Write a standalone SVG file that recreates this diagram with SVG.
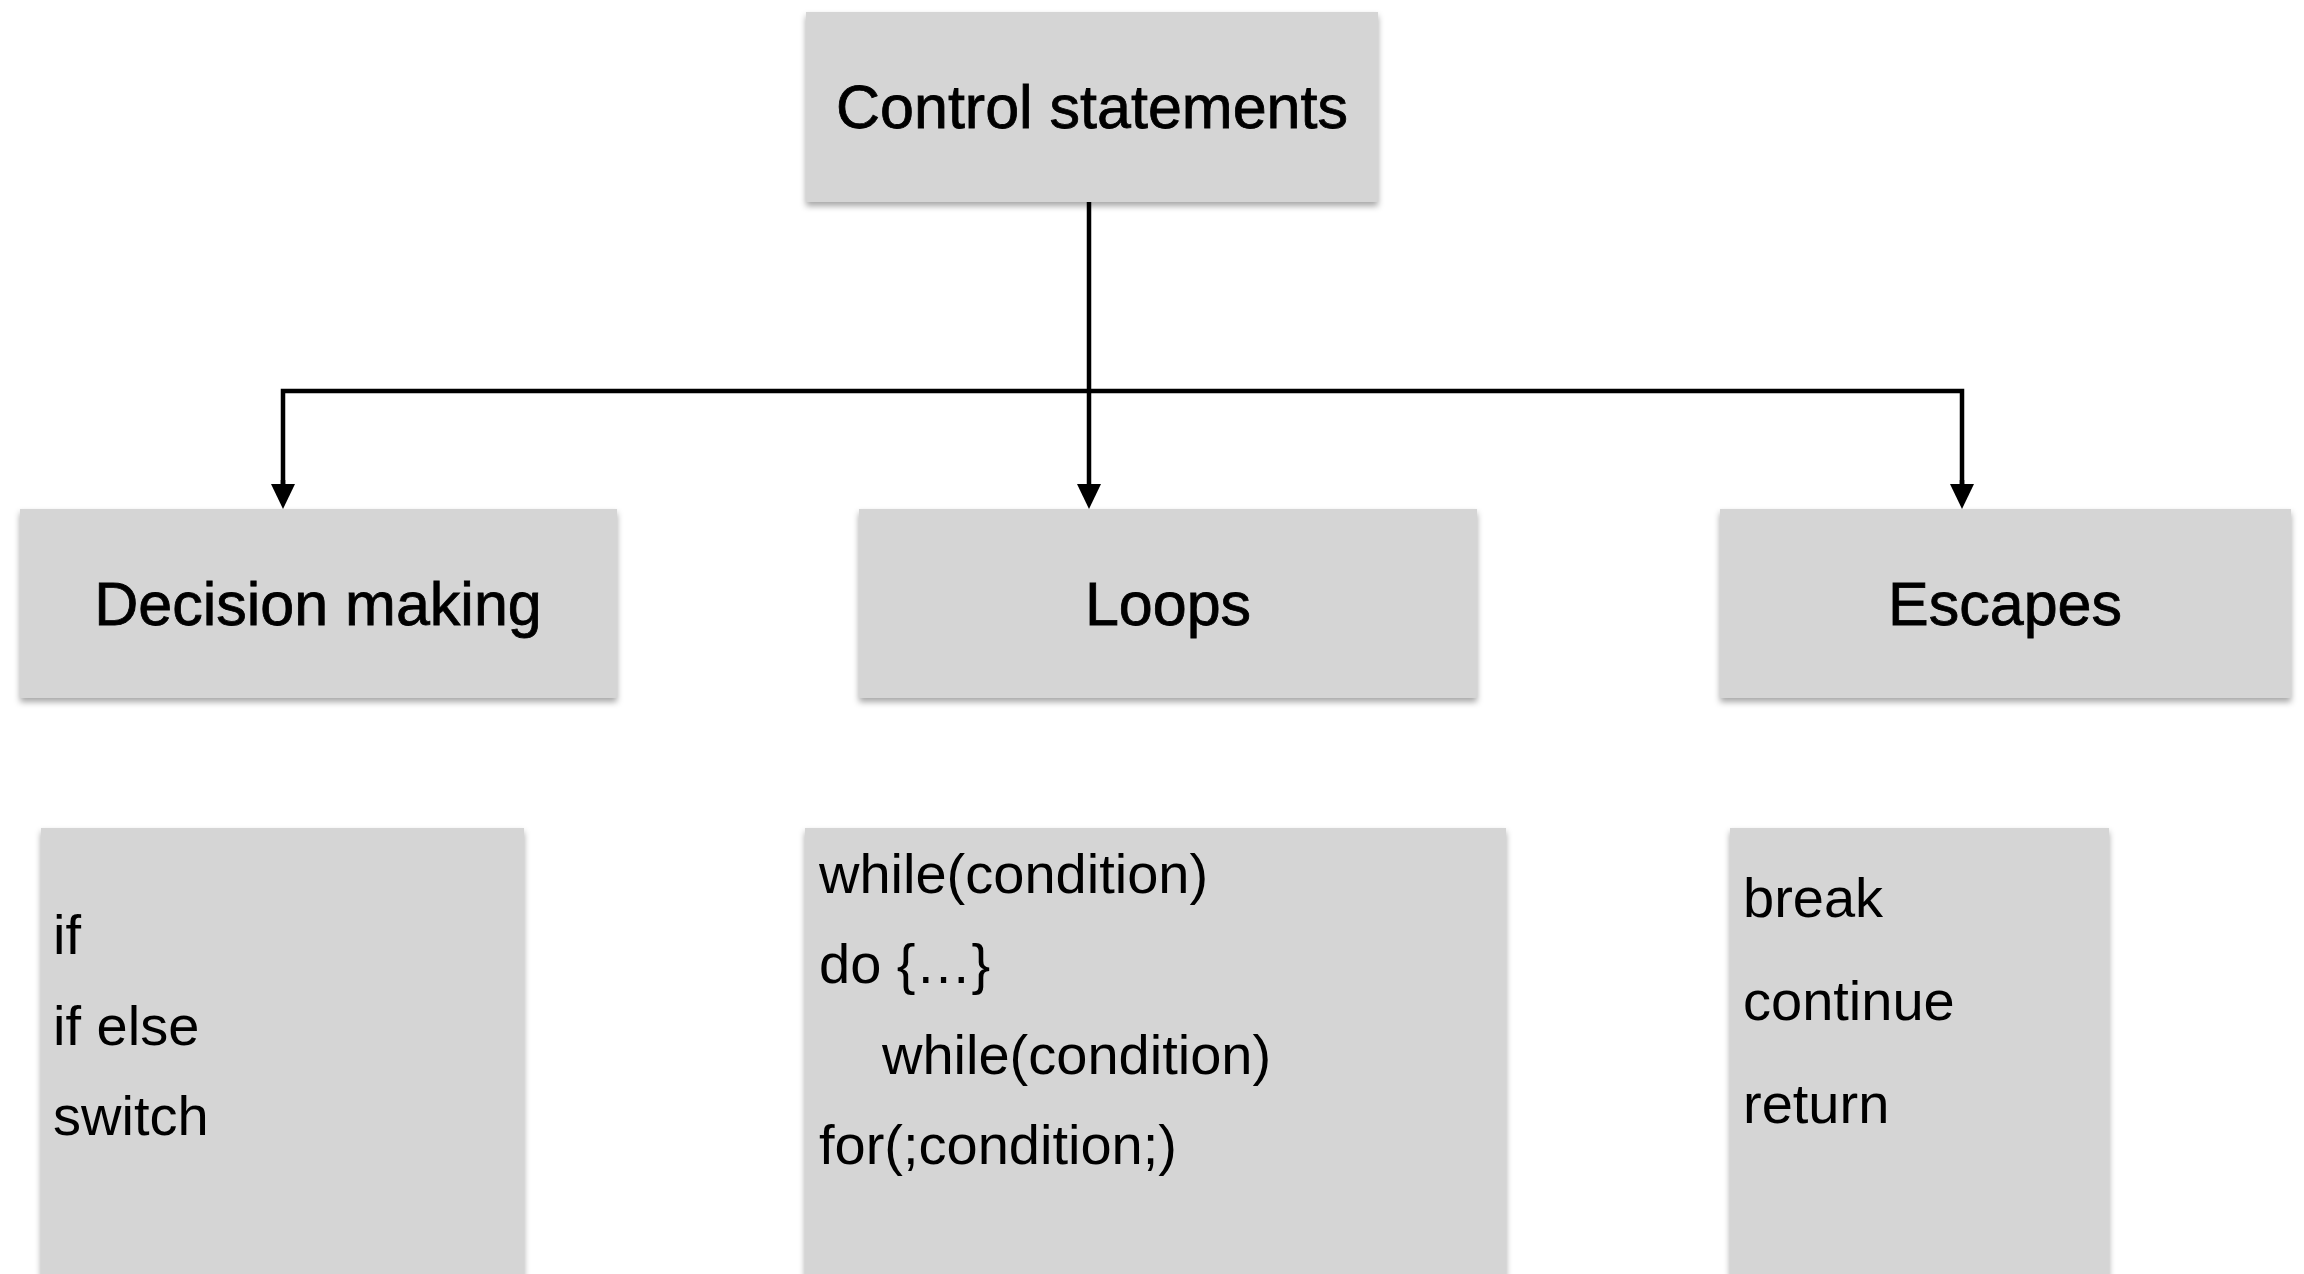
<svg xmlns="http://www.w3.org/2000/svg" width="2304" height="1274" viewBox="0 0 2304 1274">
  <defs>
    <filter id="shadow" x="-5%" y="-5%" width="110%" height="115%">
      <feDropShadow dx="0" dy="4" stdDeviation="3" flood-color="#000" flood-opacity="0.35"/>
    </filter>
    <marker id="arrow" viewBox="0 0 25 24" refX="0" refY="12" markerWidth="25" markerHeight="24" markerUnits="userSpaceOnUse" orient="auto">
      <path d="M0,0 L25,12 L0,24 z" fill="#000"/>
    </marker>
  </defs>
  <style>
    .box { fill: #d5d5d5; filter: url(#shadow); }
    .head { font-family: "Liberation Sans", Arial, sans-serif; font-size: 61px; fill: #000; stroke: #000; stroke-width: 0.8; text-anchor: middle; }
    .body { font-family: "Liberation Sans", Arial, sans-serif; font-size: 56px; fill: #000; }
    .conn { stroke: #000; stroke-width: 4.5; fill: none; }
  </style>
  <rect width="2304" height="1274" fill="#fff"/>

  <g id="connectors">
    <line class="conn" x1="1089" y1="202" x2="1089" y2="484" marker-end="url(#arrow)"/>
    <polyline class="conn" points="283,484 283,391 1962,391 1962,484"/>
    <line class="conn" x1="283" y1="480" x2="283" y2="484" marker-end="url(#arrow)"/>
    <line class="conn" x1="1962" y1="480" x2="1962" y2="484" marker-end="url(#arrow)"/>
  </g>

  <g id="control-statements">
    <rect class="box" x="806" y="12" width="572" height="190"/>
    <text class="head" x="1092" y="128">Control statements</text>
  </g>

  <g id="decision-making">
    <rect class="box" x="20" y="509" width="597" height="189"/>
    <text class="head" x="318" y="625">Decision making</text>
  </g>

  <g id="loops">
    <rect class="box" x="859" y="509" width="618" height="189"/>
    <text class="head" x="1168" y="625">Loops</text>
  </g>

  <g id="escapes">
    <rect class="box" x="1720" y="509" width="571" height="189"/>
    <text class="head" x="2005" y="625">Escapes</text>
  </g>

  <g id="decision-list">
    <rect class="box" x="41" y="828" width="483" height="470"/>
    <text class="body" x="53" y="954">if</text>
    <text class="body" x="53" y="1045">if else</text>
    <text class="body" x="53" y="1135">switch</text>
  </g>

  <g id="loops-list">
    <rect class="box" x="805" y="828" width="701" height="470"/>
    <text class="body" x="819" y="893">while(condition)</text>
    <text class="body" x="819" y="983">do {…}</text>
    <text class="body" x="882" y="1074">while(condition)</text>
    <text class="body" x="819" y="1164">for(;condition;)</text>
  </g>

  <g id="escapes-list">
    <rect class="box" x="1730" y="828" width="379" height="470"/>
    <text class="body" x="1743" y="917">break</text>
    <text class="body" x="1743" y="1020">continue</text>
    <text class="body" x="1743" y="1123">return</text>
  </g>
</svg>
